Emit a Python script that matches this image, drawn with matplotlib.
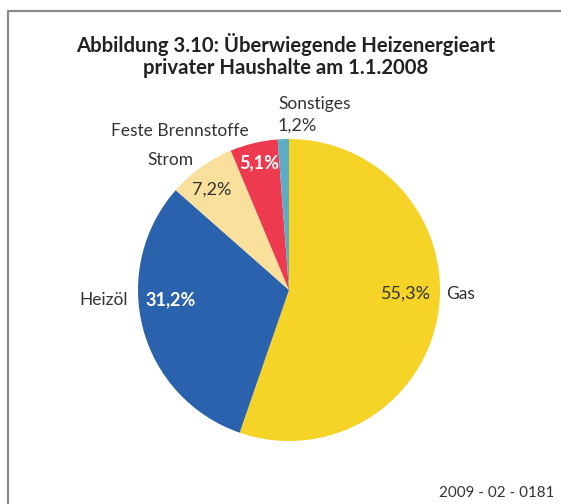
import numpy as np
import matplotlib
matplotlib.use('Agg')
import matplotlib.pyplot as plt
from matplotlib.lines import Line2D

plt.rcParams['font.family'] = ['Lato', 'DejaVu Sans']

# Anteile der Heizenergiearten (Prozent)
kategorien = ['Gas', 'Heizöl', 'Strom', 'Feste Brennstoffe', 'Sonstiges']
anteile = [55.3, 31.2, 7.2, 5.1, 1.2]
farben = ['#F5D327', '#2B62AD', '#F9E09C', '#EE3A4F', '#5BADC6']

W, H = 561, 504
fig = plt.figure(figsize=(W / 100, H / 100), dpi=100)

# Rahmen links und oben
fig.add_artist(Line2D([8 / W, 8 / W, 1], [0, 1 - 11 / H, 1 - 11 / H],
                      color='#8a8a8a', lw=1.6, transform=fig.transFigure))

# Kreisdiagramm: Mittelpunkt (289, 290), Radius 151 px
cx, cy, r = 289, 290, 151
ax = fig.add_axes([(cx - r) / W, (H - cy - r) / H, 2 * r / W, 2 * r / H])
ax.pie(anteile, colors=farben, startangle=90, counterclock=False, radius=1)
ax.set_xlim(-1, 1)
ax.set_ylim(-1, 1)
ax.set_aspect('auto')
ax.axis('off')


def txt(x, y, s, ha='center', **kw):
    fig.text(x / W, 1 - y / H, s, ha=ha, va='center', **kw)


def pct(v):
    return f'{v:.1f}%'.replace('.', ',')


txt(286, 45, 'Abbildung 3.10: Überwiegende Heizenergieart',
    fontsize=14.6, fontweight='bold', color='#222222')
txt(286, 68, 'privater Haushalte am 1.1.2008',
    fontsize=14.6, fontweight='bold', color='#222222')

lab = dict(fontsize=12.5, color='#333333')
num = dict(fontsize=13, color='#333333')
wlab = dict(fontsize=13, color='white', fontweight='bold')

txt(446, 294, kategorien[0], ha='left', **lab)
txt(406, 294, pct(anteile[0]), **num)
txt(128, 300, kategorien[1], ha='right', **lab)
txt(171, 300, pct(anteile[1]), **wlab)
txt(170, 160, kategorien[2], **lab)
txt(212, 190, pct(anteile[2]), **num)
txt(180, 131, kategorien[3], **lab)
txt(259, 163, pct(anteile[3]), **wlab)
txt(315, 104, kategorien[4], **lab)
txt(297, 126, pct(anteile[4]), **num)

txt(554, 493, '2009 - 02 - 0181', ha='right', fontsize=10.9, color='#333333')

fig.savefig('out.png', dpi=100)
